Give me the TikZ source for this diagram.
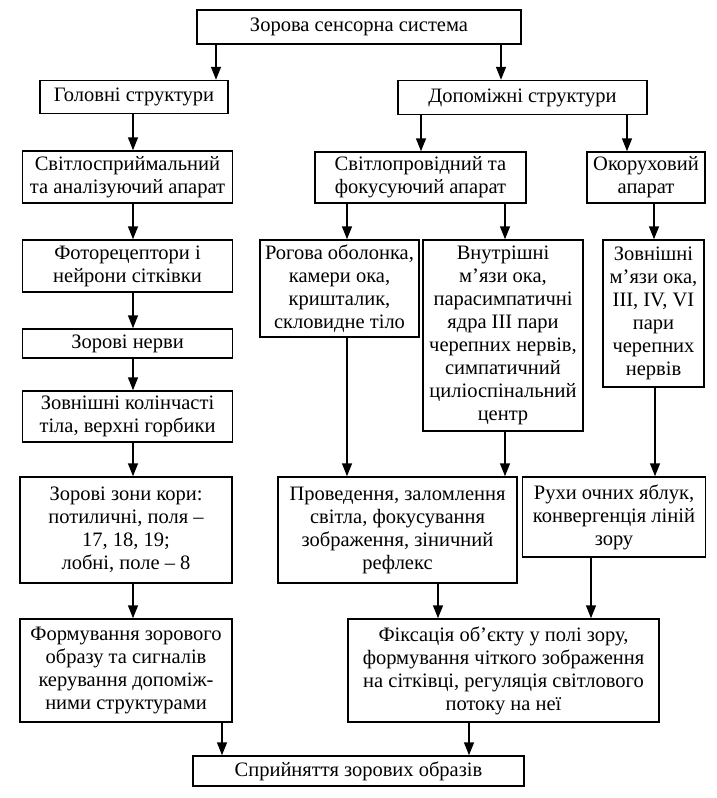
\documentclass[tikz,border=0pt]{standalone}
\usepackage{fontspec}
\setmainfont{Liberation Serif}
\usetikzlibrary{arrows.meta}

\begin{document}
\begin{tikzpicture}[
x=1pt, y=-1pt,
box/.style={draw, rectangle, line width=1.5pt, align=center, inner sep=1pt, font=\fontsize{20.5}{23}\selectfont},
arrow/.style={-{Triangle[length=13pt,width=10pt]}, line width=1.5pt}
]
\useasboundingbox (0,0) rectangle (717,798);

\node[box, minimum width=324, minimum height=34] (system) at (359,27)
{Зорова сенсорна система};

\node[box, minimum width=188, minimum height=33] (main) at (134,97)
{Головні структури};
\node[box, minimum width=249, minimum height=34] (aux) at (522.5,97.5)
{Допоміжні структури};

% left column
\node[box, minimum width=210, minimum height=52] (percept) at (127.5,177)
{Світлосприймальний\\
та аналізуючий апарат};
\node[box, minimum width=210, minimum height=52] (receptors) at (127.5,266)
{Фоторецептори і\\
нейрони сітківки};
\node[box, minimum width=210, minimum height=29] (nerves) at (127.5,343.5)
{Зорові нерви};
\node[box, minimum width=210, minimum height=51] (geniculate) at (127.5,416.5)
{Зовнішні колінчасті\\
тіла, верхні горбики};
\node[box, minimum width=212, minimum height=106] (cortex) at (126,530)
{Зорові зони кори:\\
потиличні, поля –\\
17, 18, 19;\\
лобні, поле – 8};
\node[box, minimum width=212, minimum height=103] (image) at (126,670.5)
{Формування зорового\\
образу та сигналів\\
керування допоміж-\\
ними структурами};

% right columns
\node[box, minimum width=211, minimum height=51] (optic) at (420.5,177.5)
{Світлопровідний та\\
фокусуючий апарат};
\node[box, minimum width=118, minimum height=51] (oculomotor) at (646,177.5)
{Окоруховий\\
апарат};
\node[box, minimum width=159, minimum height=97] (cornea) at (339.5,288.5)
{Рогова оболонка,\\
камери ока,\\
кришталик,\\
скловидне тіло};
\node[box, minimum width=160, minimum height=191] (inner) at (503,335.5)
{Внутрішні\\
м’язи ока,\\
парасимпатичні\\
ядра III пари\\
черепних нервів,\\
симпатичний\\
циліоспінальний\\
центр};
\node[box, minimum width=101, minimum height=147] (outer) at (653.5,313.5)
{Зовнішні\\
м’язи ока,\\
III, IV, VI\\
пари\\
черепних\\
нервів};
\node[box, minimum width=239, minimum height=106] (conduction) at (397.5,530)
{Проведення, заломлення\\
світла, фокусування\\
зображення, зіничний\\
рефлекс};
\node[box, minimum width=183, minimum height=80] (movement) at (614,517)
{Рухи очних яблук,\\
конвергенція ліній\\
зору};
\node[box, minimum width=311, minimum height=103] (fixation) at (503.5,670.5)
{Фіксація об’єкту у полі зору,\\
формування чіткого зображення\\
на сітківці, регуляція світлового\\
потоку на неї};

\node[box, minimum width=331, minimum height=30] (perception) at (358.5,771)
{Сприйняття зорових образів};

\draw[arrow] (system.south -| 216,0) -- (main.north -| 216,0);
\draw[arrow] (system.south -| 501,0) -- (aux.north -| 501,0);
\draw[arrow] (main.south -| 133,0) -- (percept.north -| 133,0);
\draw[arrow] (aux.south -| 421,0) -- (optic.north -| 421,0);
\draw[arrow] (aux.south -| 627,0) -- (oculomotor.north -| 627,0);
\draw[arrow] (percept.south -| 133,0) -- (receptors.north -| 133,0);
\draw[arrow] (receptors.south -| 133,0) -- (nerves.north -| 133,0);
\draw[arrow] (nerves.south -| 133,0) -- (geniculate.north -| 133,0);
\draw[arrow] (geniculate.south -| 133,0) -- (cortex.north -| 133,0);
\draw[arrow] (cortex.south -| 133,0) -- (image.north -| 133,0);
\draw[arrow] (optic.south -| 347,0) -- (cornea.north -| 347,0);
\draw[arrow] (optic.south -| 505,0) -- (inner.north -| 505,0);
\draw[arrow] (oculomotor.south -| 654,0) -- (outer.north -| 654,0);
\draw[arrow] (cornea.south -| 347,0) -- (conduction.north -| 347,0);
\draw[arrow] (inner.south -| 505,0) -- (conduction.north -| 505,0);
\draw[arrow] (outer.south -| 655,0) -- (movement.north -| 655,0);
\draw[arrow] (conduction.south -| 438,0) -- (fixation.north -| 438,0);
\draw[arrow] (movement.south -| 591,0) -- (fixation.north -| 591,0);
\draw[arrow] (image.south -| 222,0) -- (perception.north -| 222,0);
\draw[arrow] (fixation.south -| 469,0) -- (perception.north -| 469,0);

\end{tikzpicture}
\end{document}
